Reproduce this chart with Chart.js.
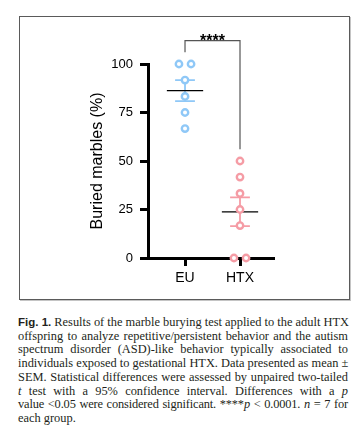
<!DOCTYPE html>
<html>
<head>
<meta charset="utf-8">
<script src="https://cdn.jsdelivr.net/npm/chart.js@4.4.0/dist/chart.umd.min.js"></script>
<style>
  body { margin: 0; background: #fff; width: 358px; height: 432px; overflow: hidden; position: relative; }
  #frame { position: absolute; left: 19px; top: 16px; width: 329px; height: 282px; border: 1px solid #5a5a5a; box-shadow: 1px 1px 0 #c4c4c4; }
  #wrap { position: absolute; left: 0; top: 0; width: 358px; height: 300px; }
  #caption { position: absolute; left: 18px; top: 316px; width: 330px; font-family: "Liberation Serif", serif; font-size: 12.4px; line-height: 13.7px; color: #231f20; }
  #caption div { text-align: justify; text-align-last: justify; white-space: nowrap; }
  #caption div.tight { letter-spacing: -0.15px; }
  #caption div.last { text-align-last: left; }
  #caption b { font-family: "Liberation Sans", Arial, sans-serif; font-size: 11.5px; }
</style>
</head>
<body>
<div id="frame"></div>
<div id="wrap"><canvas id="chart" width="358" height="300"></canvas></div>
<div id="caption">
  <div><b>Fig. 1.</b> Results of the marble burying test applied to the adult HTX</div>
  <div>offspring to analyze repetitive/persistent behavior and the autism</div>
  <div>spectrum disorder (ASD)-like behavior typically associated to</div>
  <div>individuals exposed to gestational HTX. Data presented as mean ±</div>
  <div>SEM. Statistical differences were assessed by unpaired two-tailed</div>
  <div><i>t</i> test with a 95% confidence interval. Differences with a <i>p</i></div>
  <div class="tight">value &lt;0.05 were considered significant. ****<i>p</i> &lt; 0.0001. <i>n</i> = 7 for</div>
  <div class="last">each group.</div>
</div>
<script>
// =====================
// DATA
// =====================
const groups = ["EU", "HTX"];
const euValues = [100, 100, 91.7, 83.3, 75, 66.7];
const htxValues = [50, 41.7, 33.3, 25, 16.7, 0, 0];
const means = [86.3, 23.8];
const sems = [5.4, 7.4];
const yTicks = [0, 25, 50, 75, 100];
const sigLabel = "****";

const blue = "#8fc8f7";
const pink = "#f59ca5";

// spread duplicate values sideways around the group position
function toPoints(values, center) {
    const seen = {};
    return values.map(v => {
        const total = values.filter(w => w === v).length;
        seen[v] = (seen[v] || 0) + 1;
        let x = center;
        if (total > 1) {
            x = center + (seen[v] - (total + 1) / 2) * 0.22;
        }
        return { x: x, y: v };
    });
}

// =====================
// MEAN / SEM + BRACKET
// =====================
const summaryPlugin = {
    id: "summary",
    beforeDatasetsDraw(chart) {
        const ctx = chart.ctx;
        const xs = chart.scales.x;
        const ys = chart.scales.y;
        const colors = [blue, pink];
        ctx.save();
        means.forEach((m, i) => {
            const cx = xs.getPixelForValue(i + 1);
            const capW = xs.getPixelForValue(i + 1.18) - cx;
            const lineW = xs.getPixelForValue(i + 1.33) - cx;
            const yTop = ys.getPixelForValue(m + sems[i]);
            const yBot = ys.getPixelForValue(m - sems[i]);
            const yMean = ys.getPixelForValue(m);

            ctx.strokeStyle = colors[i];
            ctx.lineWidth = 1.8;
            ctx.beginPath();
            ctx.moveTo(cx, yTop); ctx.lineTo(cx, yBot);
            ctx.moveTo(cx - capW, yTop); ctx.lineTo(cx + capW, yTop);
            ctx.moveTo(cx - capW, yBot); ctx.lineTo(cx + capW, yBot);
            ctx.stroke();

            ctx.strokeStyle = "#000";
            ctx.lineWidth = 1.4;
            ctx.beginPath();
            ctx.moveTo(cx - lineW, yMean); ctx.lineTo(cx + lineW, yMean);
            ctx.stroke();
        });
        ctx.restore();
    },
    afterDatasetsDraw(chart) {
        const ctx = chart.ctx;
        const xs = chart.scales.x;
        const ys = chart.scales.y;
        const x1 = xs.getPixelForValue(1);
        const x2 = xs.getPixelForValue(2);
        const top = ys.getPixelForValue(Math.max(...euValues) + 12);
        const leg1 = ys.getPixelForValue(Math.max(...euValues) + 6);
        const leg2 = ys.getPixelForValue(Math.max(...htxValues) + 6);
        ctx.save();
        ctx.strokeStyle = "#555";
        ctx.lineWidth = 1.2;
        ctx.beginPath();
        ctx.moveTo(x1, leg1); ctx.lineTo(x1, top); ctx.lineTo(x2, top); ctx.lineTo(x2, leg2);
        ctx.stroke();
        ctx.fillStyle = "#000";
        ctx.font = "bold 16px 'Liberation Sans', Arial, sans-serif";
        ctx.textAlign = "center";
        ctx.textBaseline = "alphabetic";
        ctx.fillText(sigLabel, (x1 + x2) / 2, top + 5);
        ctx.restore();
    }
};

// =====================
// CHART
// =====================
const ctx = document.getElementById("chart");
new Chart(ctx, {
    type: "scatter",
    data: {
        datasets: [
            {
                data: toPoints(euValues, 1),
                pointRadius: 3.2,
                pointBorderWidth: 2.4,
                pointBackgroundColor: "#fff",
                pointBorderColor: blue,
                clip: false
            },
            {
                data: toPoints(htxValues, 2),
                pointRadius: 3.2,
                pointBorderWidth: 2.4,
                pointBackgroundColor: "#fff",
                pointBorderColor: pink,
                clip: false
            }
        ]
    },
    options: {
        responsive: false,
        animation: false,
        layout: { padding: { left: 88, right: 85, top: 64, bottom: 12 } },
        plugins: { legend: { display: false }, tooltip: { enabled: false } },
        scales: {
            x: {
                type: "linear",
                min: 0.327,
                max: 2.6,
                afterBuildTicks: s => { s.ticks = groups.map((g, i) => ({ value: i + 1 })); },
                afterFit: s => { s.height = 30; },
                ticks: {
                    callback: v => groups[Math.round(v) - 1],
                    color: "#000",
                    padding: 4,
                    font: { family: "'Liberation Sans', Arial, sans-serif", size: 14 }
                },
                grid: { drawOnChartArea: false, tickLength: 8, lineWidth: 3, color: "#000" },
                border: { color: "#000", width: 3 }
            },
            y: {
                min: 0,
                max: 100,
                afterBuildTicks: s => { s.ticks = yTicks.map(v => ({ value: v })); },
                afterFit: s => { s.width = 60; },
                ticks: {
                    color: "#000",
                    padding: 7,
                    font: { family: "'Liberation Sans', Arial, sans-serif", size: 13 }
                },
                grid: { drawOnChartArea: false, tickLength: 8, lineWidth: 3, color: "#000" },
                border: { color: "#000", width: 3 },
                title: {
                    display: true,
                    text: "Buried marbles (%)",
                    color: "#000",
                    padding: 0,
                    font: { family: "'Liberation Sans', Arial, sans-serif", size: 16 }
                }
            }
        }
    },
    plugins: [summaryPlugin]
});
</script>
</body>
</html>
